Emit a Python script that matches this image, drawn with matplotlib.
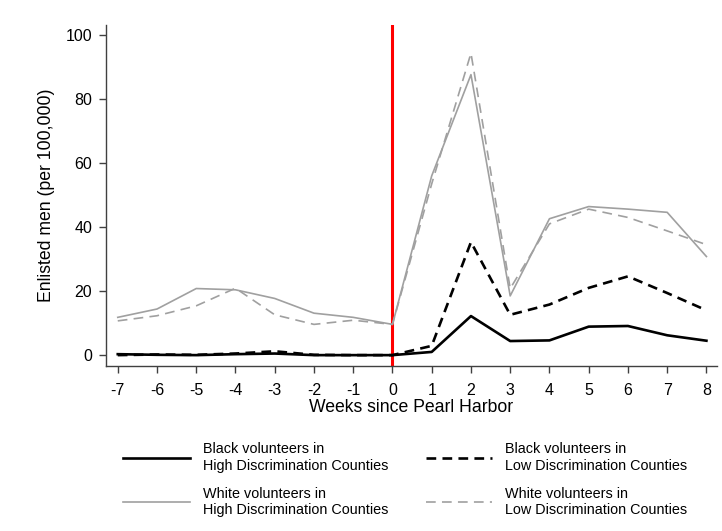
import numpy as np
import matplotlib.pyplot as plt

plt.rcParams['font.family'] = ['Liberation Sans', 'DejaVu Sans']
plt.rcParams['lines.scale_dashes'] = False
plt.rcParams['axes.unicode_minus'] = False

weeks = list(range(-7, 9))
black_high = [0.3, 0.1, 0.0, 0.3, 0.5, 0.0, 0.0, 0.0, 1.0, 12.2, 4.4, 4.6, 8.9, 9.1, 6.2, 4.5]
black_low = [0.0, 0.2, 0.1, 0.5, 1.2, 0.1, 0.0, 0.0, 2.9, 35.3, 12.6, 15.8, 21.0, 24.6, 19.4, 14.0]
white_high = [11.8, 14.4, 20.8, 20.4, 17.7, 13.1, 11.8, 9.6, 56.0, 87.6, 18.5, 42.6, 46.4, 45.6, 44.6, 30.8]
white_low = [10.7, 12.3, 15.4, 20.9, 12.6, 9.6, 10.9, 9.6, 53.5, 94.3, 20.8, 41.0, 45.6, 43.0, 38.8, 34.5]

labels = ['Black volunteers in\nHigh Discrimination Counties',
          'White volunteers in\nHigh Discrimination Counties',
          'Black volunteers in\nLow Discrimination Counties',
          'White volunteers in\nLow Discrimination Counties']

gray = '#a0a0a0'
axcol = '#404040'
dash = (0, (7, 4.5))

fig = plt.figure(figsize=(7.22, 5.31), dpi=100)
ax = fig.add_axes([0.1468, 0.3107, 0.8463, 0.6422])

# event line at Pearl Harbor
ax.axvline(0, color='red', lw=2.2, zorder=1)

h_wh, = ax.plot(weeks, white_high, color=gray, lw=1.2, zorder=2)
h_wl, = ax.plot(weeks, white_low, color=gray, lw=1.2, ls=dash, zorder=2)
h_bh, = ax.plot(weeks, black_high, color='black', lw=1.9, zorder=3)
h_bl, = ax.plot(weeks, black_low, color='black', lw=1.9, ls=dash, zorder=3)

ax.set_xlim(-7.3, 8.27)
ax.set_ylim(-3.4, 103.1)
ax.set_xticks(weeks)
ax.set_yticks([0, 20, 40, 60, 80, 100])
ax.tick_params(labelsize=11.5, length=5, width=1, color=axcol)
ax.tick_params(axis='x', pad=7)
ax.tick_params(axis='y', pad=5)
for s in ['top', 'right']:
    ax.spines[s].set_visible(False)
for s in ['left', 'bottom']:
    ax.spines[s].set_color(axcol)
    ax.spines[s].set_linewidth(1)

ax.set_xlabel('Weeks since Pearl Harbor', fontsize=12.7, labelpad=1)
ax.set_ylabel('Enlisted men (per 100,000)', fontsize=12.7, labelpad=7.5)

fig.legend([h_bh, h_wh, h_bl, h_wl], labels, ncol=2, frameon=False,
           loc='upper left', bbox_to_anchor=(0.171, 0.167),
           fontsize=10.4, handlelength=4.6, handletextpad=0.9,
           columnspacing=2.6, labelspacing=0.98, borderpad=0, borderaxespad=0)

fig.savefig('out.png', dpi=100)
